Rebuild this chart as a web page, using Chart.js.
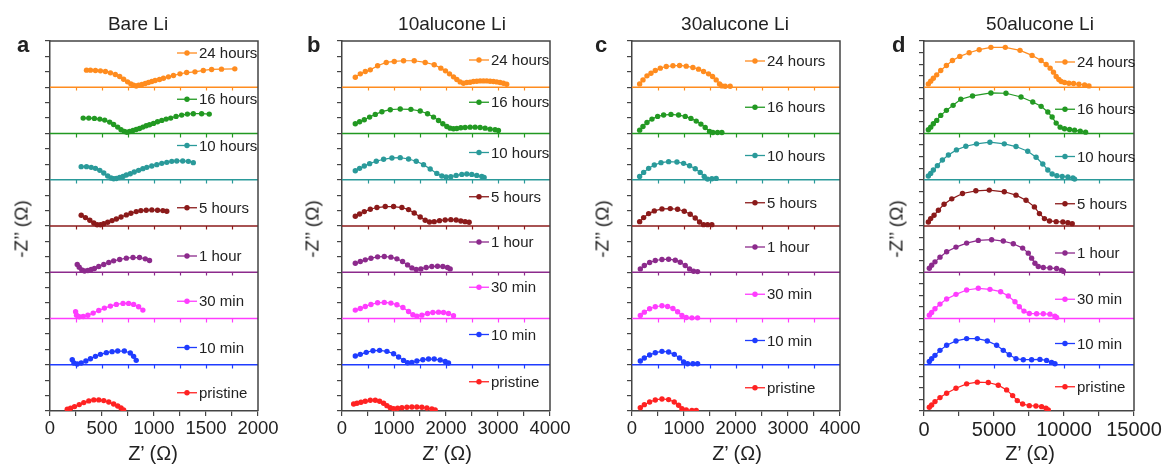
<!DOCTYPE html>
<html><head><meta charset="utf-8">
<script src="https://cdn.jsdelivr.net/npm/chart.js@4.4.1/dist/chart.umd.min.js"></script>
<style>
html,body{margin:0;padding:0;background:#fff;width:1163px;height:466px;overflow:hidden;position:relative;font-family:"Liberation Sans",Arial,sans-serif;color:#222}
canvas{position:absolute;top:0}
.t{position:absolute;white-space:nowrap;line-height:1}
</style></head><body>
<script>
// ---- series (bottom to top) ----
const SERIES_LABELS = ['pristine','10 min','30 min','1 hour','5 hours','10 hours','16 hours','24 hours'];
const SERIES_COLORS = ['#ff2222','#1f3cff','#ff3cff','#8c2a8c','#8b1a1a','#2a9a9a','#229922','#ff8c1f'];

// ---- panel titles / x tick labels ----
const PANEL_TITLES = ['Bare Li','10alucone Li','30alucone Li','50alucone Li'];
const PANEL_LETTERS = ['a','b','c','d'];
const bareTicks = [0,500,1000,1500,2000];
const alu10Ticks = [0,1000,2000,3000,4000];
const alu30Ticks = [0,1000,2000,3000,4000];
const alu50Ticks = [0,5000,10000,15000];

// ---- Bare Li: Z' and -Z'' (Ohm) ----
const bareZre = [
 [166,198,236,281,325,373,421,469,517,565,612,651,683,708],
 [214,230,262,300,345,389,437,485,542,597,651,715,772,804,829],
 [246,255,281,319,364,415,469,523,581,638,702,756,804,852,893],
 [262,281,306,332,364,396,427,469,517,565,612,670,734,798,861,916,957],
 [300,341,383,421,453,485,517,555,597,638,683,734,778,829,874,925,979,1034,1085,1123],
 [300,351,396,437,479,517,555,587,612,638,670,702,734,772,810,852,893,931,979,1027,1075,1123,1171,1219,1276,1330,1378],
 [319,373,427,479,526,574,612,651,683,715,740,766,798,829,861,893,925,957,995,1034,1075,1117,1161,1212,1266,1321,1378,1458,1531],
 [351,389,437,485,533,581,628,670,708,746,778,804,829,852,884,916,947,979,1011,1053,1091,1139,1187,1250,1314,1394,1474,1554,1649,1777]
];
const bareZim = [
 [22,35,57,83,109,131,144,144,135,117,91,65,39,13],
 [65,22,9,22,48,78,109,135,157,170,178,178,152,109,57],
 [87,43,22,26,43,70,104,135,161,183,196,196,183,152,109],
 [100,65,30,17,22,35,48,74,100,126,148,165,183,191,191,174,152],
 [139,109,74,39,17,17,30,48,70,91,117,144,165,187,200,204,209,204,200,191],
 [170,170,161,148,122,87,48,22,13,17,30,43,61,78,100,122,144,161,178,196,213,226,239,244,244,239,222],
 [200,200,196,187,174,148,117,83,48,26,17,26,39,52,65,83,100,113,131,152,170,187,200,222,239,252,257,257,252],
 [222,222,218,213,204,187,165,139,104,70,43,26,17,26,35,48,61,74,87,100,117,135,152,174,191,200,218,231,235,239]
];

// ---- 10alucone Li ----
const alu10Zre = [
 [224,288,365,448,544,640,723,800,864,928,992,1069,1152,1248,1344,1440,1536,1632,1728,1792],
 [256,352,467,595,723,864,992,1088,1184,1261,1344,1440,1555,1664,1773,1888,1984,2048],
 [256,352,448,557,685,813,941,1056,1171,1280,1363,1440,1536,1645,1747,1856,1952,2048,2144],
 [256,352,448,557,685,813,941,1056,1165,1261,1344,1427,1517,1619,1728,1837,1939,2029,2080],
 [256,339,429,544,672,832,992,1152,1280,1389,1504,1600,1683,1773,1875,1984,2093,2195,2285,2368,2445],
 [256,339,429,531,659,800,960,1120,1280,1427,1568,1696,1824,1920,2003,2093,2195,2304,2400,2496,2592,2688,2733],
 [256,339,429,531,640,768,928,1120,1325,1504,1645,1760,1856,1939,2016,2080,2144,2208,2285,2368,2464,2560,2656,2752,2848,2944,3008],
 [256,352,448,544,685,851,1005,1184,1389,1600,1773,1901,1990,2067,2144,2208,2272,2336,2400,2464,2528,2592,2656,2720,2784,2848,2912,2976,3040,3104,3168]
];
const alu10Zim = [
 [183,200,226,252,278,278,252,200,139,87,61,70,87,96,104,104,96,78,52,26],
 [226,270,322,365,374,348,287,200,113,52,61,96,131,148,148,122,87,44],
 [218,261,313,365,409,418,400,357,287,183,96,61,87,131,157,165,157,131,70],
 [235,278,322,365,400,409,392,348,278,191,113,70,87,122,148,157,148,122,87],
 [252,313,374,435,479,505,505,479,426,339,235,148,104,113,139,157,165,157,131,113,96],
 [235,296,357,418,479,531,566,574,539,479,392,278,165,96,70,78,113,139,148,139,113,87,61],
 [252,305,357,426,496,566,618,635,626,583,513,426,339,252,183,139,122,131,148,157,165,165,157,139,113,96,78],
 [261,348,409,452,557,644,670,687,687,644,583,496,426,348,270,200,139,104,122,131,148,157,165,165,165,157,148,139,122,104,78]
];

// ---- 30alucone Li ----
const alu30Zre = [
 [160,237,339,448,576,704,813,896,960,1043,1152,1235],
 [160,237,339,448,576,704,813,915,992,1069,1171,1261],
 [160,237,339,448,576,685,787,877,960,1043,1152,1261],
 [160,237,339,448,576,704,832,928,1024,1107,1184,1261],
 [147,224,320,429,576,736,877,1005,1120,1216,1299,1376,1453,1536],
 [147,224,320,429,557,704,864,992,1107,1216,1312,1389,1453,1536,1619],
 [147,211,288,384,493,608,749,896,1024,1133,1235,1325,1408,1491,1555,1645,1728],
 [147,211,288,365,448,544,659,787,915,1043,1171,1280,1376,1472,1549,1619,1683,1728,1792,1888]
];
const alu30Zim = [
 [87,165,235,287,313,296,235,148,61,26,17,17],
 [96,174,252,313,348,331,270,174,70,26,26,26],
 [78,165,252,305,331,313,261,174,78,26,17,17],
 [87,174,252,305,331,339,313,261,174,87,26,17],
 [113,218,322,392,444,452,435,383,305,209,104,35,35,35],
 [87,191,296,383,444,470,461,426,365,287,191,87,17,26,35],
 [87,183,287,374,444,479,496,479,444,392,322,244,157,52,26,26,26],
 [87,191,296,365,435,496,539,557,566,548,513,470,409,348,278,191,87,35,26,26]
];

// ---- 50alucone Li ----
const alu50Zre = [
 [381,547,785,1142,1618,2285,3046,3808,4593,5307,5902,6331,6664,7045,7521,7997,8401,8711,8877],
 [381,547,785,1142,1618,2285,3046,3808,4522,5188,5664,6093,6569,7092,7687,8282,8758,9115,9353],
 [381,547,785,1142,1618,2285,3046,3879,4712,5474,6021,6497,6807,7140,7521,8044,8520,8996,9353,9472],
 [381,547,785,1142,1618,2285,3046,3879,4831,5664,6378,7045,7449,7687,7925,8163,8520,8996,9472,9829,9948],
 [311,478,717,1028,1434,1984,2749,3705,4661,5736,6573,7290,7887,8246,8604,8963,9441,9919,10277,10588],
 [311,478,669,956,1315,1745,2318,2988,3752,4708,5736,6573,7409,8007,8485,8843,9154,9488,9871,10277,10636,10755],
 [311,478,669,908,1195,1601,2079,2629,3466,4780,5856,6931,7768,8365,8843,9154,9441,9727,10038,10397,10755,11161,11544],
 [311,478,669,908,1195,1601,2032,2557,3227,3944,4780,5808,6859,7720,8365,8724,9010,9249,9441,9632,9799,10038,10349,10683,11066,11472,11783]
];
const alu50Zim = [
 [638,1044,1624,2320,3074,3944,4698,4988,4930,4466,3654,2668,1798,1218,928,870,754,464,174],
 [580,1044,1624,2494,3364,4118,4524,4524,4118,3364,2494,1740,1044,870,870,928,754,406,174],
 [580,1044,1682,2494,3364,4176,4930,5220,5046,4640,3886,2900,2030,1276,870,812,812,754,406,174],
 [696,1218,1798,2610,3538,4350,5046,5510,5626,5394,4930,4176,3306,2436,1566,986,812,754,638,348,174],
 [696,1276,1856,2726,3770,4698,5626,6090,6206,5916,5336,4466,3306,2146,1276,870,754,696,580,406],
 [638,1102,1682,2436,3422,4292,5162,5800,6206,6496,6206,5742,4930,3886,2726,1682,986,696,580,464,290,116],
 [638,1102,1682,2262,3132,4002,4872,5916,6496,7018,6960,6322,5452,4698,3712,2842,1798,1102,812,696,580,406,232],
 [580,1044,1566,2146,2900,3770,4640,5336,5974,6496,6902,6902,6380,5510,4640,3944,3306,2610,1856,1334,986,812,696,638,522,406,232]
];

// ---- layout (pixels) ----
const PANELS = [
 {zre:bareZre, zim:bareZim, ticks:bareTicks, xMax:2000, xMinor:250, band:600, yStep:200, canvasLeft:0, canvasW:290, plotLeft:50, plotRight:258, tickFont:18.5,
  legendX:199, legendOff:[28,29,29,30,28,12,12,12], titleX:138, letterX:17, yTitleX:21, xTitleX:153},
 {zre:alu10Zre, zim:alu10Zim, ticks:alu10Ticks, xMax:4000, xMinor:500, band:1200, yStep:400, canvasLeft:292, canvasW:290, plotLeft:342, plotRight:550, tickFont:18.5,
  legendX:491, legendOff:[17,16,15,16,17,19,15,19], titleX:452, letterX:307, yTitleX:312, xTitleX:447},
 {zre:alu30Zre, zim:alu30Zim, ticks:alu30Ticks, xMax:4000, xMinor:500, band:1200, yStep:400, canvasLeft:582, canvasW:290, plotLeft:632, plotRight:840, tickFont:18.5,
  legendX:767, legendOff:[23,22,22,21,23,22,20,20], titleX:735, letterX:595, yTitleX:602, xTitleX:737},
 {zre:alu50Zre, zim:alu50Zim, ticks:alu50Ticks, xMax:15000, xMinor:2500, band:8000, yStep:2000, canvasLeft:874, canvasW:320, plotLeft:924, plotRight:1134, tickFont:20,
  legendX:1077, legendOff:[22,25,27,27,24,23,22,21], titleX:1040, letterX:892, yTitleX:896, xTitleX:1030}
];
const PLOT_TOP = 41, PLOT_BOTTOM = 411, H = 466;
const AXIS = '#444';
const FONT = '"Liberation Sans", Arial, sans-serif';

function text(str, opts){
  const d = document.createElement('div');
  d.className = 't';
  d.textContent = str;
  d.style.fontSize = opts.size + 'px';
  if (opts.bold) d.style.fontWeight = 'bold';
  d.style.left = opts.x + 'px';
  d.style.top = opts.y + 'px';
  d.style.transform = opts.rot ? 'translate(-50%,-50%) rotate(-90deg)' : (opts.center ? 'translate(-50%,0)' : 'none');
  document.body.appendChild(d);
}

const framePlugin = {
  id:'frame',
  afterDraw(chart){
    const {ctx, chartArea:a} = chart;
    ctx.save(); ctx.strokeStyle = AXIS; ctx.lineWidth = 1.5;
    ctx.beginPath(); ctx.moveTo(a.left, a.top); ctx.lineTo(a.right, a.top); ctx.lineTo(a.right, a.bottom); ctx.stroke();
    ctx.restore();
  }
};
const bandTickPlugin = {
  id:'bandTicks',
  afterDatasetsDraw(chart){
    const p = chart.$panel, xs = chart.scales.x, ys = chart.scales.y, ctx = chart.ctx;
    ctx.save(); ctx.lineWidth = 1.2;
    for (let i = 1; i < 8; i++){
      const y = Math.round(ys.getPixelForValue(i*p.band));
      ctx.strokeStyle = SERIES_COLORS[i];
      for (const t of xs.ticks){
        if (t.value <= xs.min || t.value >= xs.max) continue;
        const x = Math.round(xs.getPixelForValue(t.value)) + 0.5;
        ctx.beginPath(); ctx.moveTo(x, y); ctx.lineTo(x, y + 3.5); ctx.stroke();
      }
    }
    ctx.restore();
  }
};
const legendPlugin = {
  id:'bandLegend',
  afterDraw(chart){
    const p = chart.$panel, ys = chart.scales.y, ctx = chart.ctx;
    ctx.save();
    ctx.font = '15px ' + FONT; ctx.textBaseline = 'middle'; ctx.textAlign = 'left';
    const tx = p.legendX - p.canvasLeft;
    for (let i = 0; i < 8; i++){
      const y = ys.getPixelForValue((i+1)*p.band) + p.legendOff[i];
      ctx.strokeStyle = SERIES_COLORS[i]; ctx.fillStyle = SERIES_COLORS[i]; ctx.lineWidth = 1.3;
      ctx.beginPath(); ctx.moveTo(tx-22, y); ctx.lineTo(tx-2, y); ctx.stroke();
      ctx.beginPath(); ctx.arc(tx-12, y, 2.7, 0, Math.PI*2); ctx.fill();
      ctx.fillStyle = '#222';
      ctx.fillText(SERIES_LABELS[i], tx, y + 1);
    }
    ctx.restore();
  }
};

PANELS.forEach((p, k) => {
  const cv = document.createElement('canvas');
  cv.width = p.canvasW; cv.height = H;
  cv.style.left = p.canvasLeft + 'px';
  cv.style.width = p.canvasW + 'px'; cv.style.height = H + 'px';
  document.body.appendChild(cv);

  const datasets = [];
  for (let i = 1; i < 8; i++){
    datasets.push({data:[{x:0, y:i*p.band},{x:p.xMax, y:i*p.band}], showLine:true, pointRadius:0,
      borderColor:SERIES_COLORS[i], borderWidth:1.5, order:10});
  }
  for (let i = 0; i < 8; i++){
    datasets.push({data:p.zre[i].map((x, j) => ({x, y:i*p.band + p.zim[i][j]})), showLine:true,
      borderColor:SERIES_COLORS[i], backgroundColor:SERIES_COLORS[i], borderWidth:1.2,
      pointRadius:2.7, pointBorderWidth:0, order:0});
  }

  const chart = new Chart(cv, {
    type:'scatter',
    data:{datasets},
    options:{
      responsive:false, animation:false, events:[],
      layout:{padding:{top:PLOT_TOP, bottom:0, left:0, right:(p.canvasLeft + p.canvasW) - p.plotRight}},
      plugins:{legend:{display:false}, tooltip:{enabled:false}},
      scales:{
        x:{type:'linear', min:0, max:p.xMax,
          afterFit(s){ s.height = H - PLOT_BOTTOM; },
          ticks:{stepSize:p.xMinor, autoSkip:false, maxRotation:0, padding:2, color:'#222',
            font:{family:FONT, size:p.tickFont},
            callback:(v) => p.ticks.includes(v) ? String(v) : ''},
          grid:{drawOnChartArea:false, drawTicks:true, tickLength:5, color:AXIS, lineWidth:1.2},
          border:{color:AXIS, width:1.5}},
        y:{type:'linear', min:0, max:8*p.band,
          afterFit(s){ s.width = p.plotLeft - p.canvasLeft; },
          ticks:{display:false, stepSize:p.yStep},
          grid:{drawOnChartArea:false, drawTicks:true, tickLength:5, color:AXIS, lineWidth:1.2},
          border:{color:AXIS, width:1.5}}
      }
    },
    plugins:[{id:'panelRef', beforeInit(c){ c.$panel = p; }}, bandTickPlugin, framePlugin, legendPlugin]
  });

  text(PANEL_TITLES[k], {x:p.titleX, y:14, size:19, center:true});
  text(PANEL_LETTERS[k], {x:p.letterX, y:34, size:22, bold:true});
  text('-Z\u2019\u2019 (\u03A9)', {x:p.yTitleX, y:229, size:19, rot:true});
  text('Z\u2019 (\u03A9)', {x:p.xTitleX, y:443, size:20, center:true});
});
</script>
</body></html>
